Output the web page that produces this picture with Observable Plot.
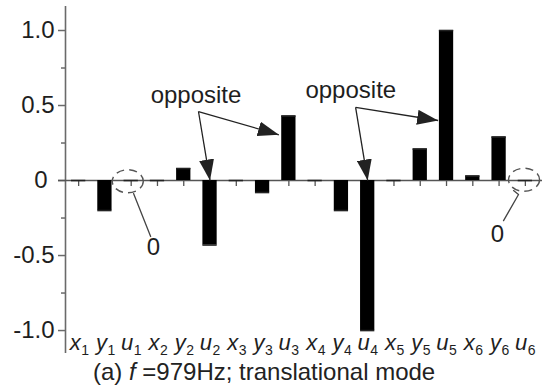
<!DOCTYPE html>
<html>
<head>
<meta charset="utf-8">
<script src="https://cdn.jsdelivr.net/npm/d3@7"></script>
<script src="https://cdn.jsdelivr.net/npm/@observablehq/plot@0.6"></script>
<style>
  body { margin: 0; background: #fff; }
  #chart { width: 542px; }
  .caption {
    width: 542px;
    font: 24px/28px "Liberation Sans", Arial, sans-serif;
    color: #222;
    padding-left: 93px;
    box-sizing: border-box;
    white-space: nowrap;
  }
</style>
</head>
<body>
<div id="chart"></div>
<div class="caption">(a) <i>f</i> =979Hz; translational mode</div>
<script>
// Degrees of freedom of the six nodes (letter = direction, digit = node)
const dofs = ["x1", "y1", "u1", "x2", "y2", "u2", "x3", "y3", "u3",
              "x4", "y4", "u4", "x5", "y5", "u5", "x6", "y6", "u6"];
// Normalised mode-shape amplitudes at f = 979 Hz
const amplitudes = [0, -0.2, 0, 0, 0.08, -0.43, 0, -0.08, 0.43,
                    0, -0.2, -1.0, 0, 0.21, 1.0, 0.03, 0.29, 0];

const majorTicks = [-1, -0.5, 0.5, 1];
const minorTicks = [-0.75, -0.25, 0.25, 0.75];

// "opposite" callouts (positions in dof-index / amplitude units)
const noteLabels = [
  {text: "opposite", x: 2.74, y: 0.52},
  {text: "opposite", x: 8.63, y: 0.547}
];
const noteArrows = [
  {x1: 4.56, y1: 0.46, x2: 5, y2: 0.0},
  {x1: 4.56, y1: 0.46, x2: 7.62, y2: 0.305},
  {x1: 10.54, y1: 0.487, x2: 11, y2: 0.0},
  {x1: 10.54, y1: 0.487, x2: 13.68, y2: 0.4}
];
// dashed rings marking zero rotations, with leaders to a "0" label
const zeroRings = [{x: 1.87, y: -0.005}, {x: 16.95, y: 0.005}];
const zeroLeaders = [
  {id: "a", x: 2.09, y: -0.087}, {id: "a", x: 2.74, y: -0.373},
  {id: "b", x: 16.55, y: -0.067}, {id: "b", x: 16.74, y: -0.093}, {id: "b", x: 16.17, y: -0.267}
];
const zeroLabels = [{text: "0", x: 2.85, y: -0.447}, {text: "0", x: 15.94, y: -0.36}];

const rows = dofs.map((dof, i) => ({dof, i, value: amplitudes[i]}));

// tick labels with a plain hyphen for negatives
const fmt = d => d3.format(".1f")(d).replace("\u2212", "-");

// filled triangular arrowhead
function filledHead(color, context) {
  const ns = "http://www.w3.org/2000/svg";
  const marker = context.document.createElementNS(ns, "marker");
  marker.setAttribute("viewBox", "-21 -7.5 21 15");
  marker.setAttribute("markerWidth", 21);
  marker.setAttribute("markerHeight", 15);
  marker.setAttribute("markerUnits", "userSpaceOnUse");
  marker.setAttribute("orient", "auto");
  marker.setAttribute("fill", color);
  marker.setAttribute("stroke", "none");
  const path = context.document.createElementNS(ns, "path");
  path.setAttribute("d", "M-21,-7.5L0,0L-21,7.5Z");
  marker.appendChild(path);
  return marker;
}

// ellipse symbol for the dashed rings
const ellipse = {
  draw(ctx, size) {
    const r = Math.sqrt(size / Math.PI);
    const rx = r * 1.35, ry = r, k = 0.5523;
    ctx.moveTo(rx, 0);
    ctx.bezierCurveTo(rx, ry * k, rx * k, ry, 0, ry);
    ctx.bezierCurveTo(-rx * k, ry, -rx, ry * k, -rx, 0);
    ctx.bezierCurveTo(-rx, -ry * k, -rx * k, -ry, 0, -ry);
    ctx.bezierCurveTo(rx * k, -ry, rx, -ry * k, rx, 0);
    ctx.closePath();
  }
};

const axisGray = "#6a6a6a";
const ink = "#1e1e1e";

const chart = Plot.plot({
  width: 542,
  height: 358,
  marginLeft: 65,
  marginRight: 4,
  marginTop: 6,
  marginBottom: 5,
  x: {domain: [-0.5, dofs.length - 0.5], axis: null},
  y: {domain: [-1.153, 1.16], axis: null},
  style: {fontFamily: "'Liberation Sans', Arial, sans-serif", background: "#fff", color: ink},
  marks: [
    // y axis
    Plot.ruleX([-0.5], {stroke: axisGray, strokeWidth: 1.6}),
    Plot.axisY(majorTicks, {tickSize: 7, tickPadding: 4, fontSize: 24, stroke: axisGray, strokeWidth: 1.5,
      fill: ink, tickFormat: fmt, label: null}),
    Plot.axisY([0], {tickSize: 7, tickPadding: 11, fontSize: 24, stroke: axisGray, strokeWidth: 1.5,
      fill: ink, tickFormat: () => "0", label: null}),
    Plot.axisY(minorTicks, {tickSize: 4, stroke: axisGray, strokeWidth: 1.5, tickFormat: () => "", label: null}),
    // small ticks below the zero line at each dof
    Plot.ruleX(rows, {x: "i", y1: 0, y2: -0.04, stroke: "#555", strokeWidth: 1.3}),
    // zero line
    Plot.ruleY([0], {stroke: "#555", strokeWidth: 1.5, insetLeft: -7, insetRight: -4}),
    // amplitude bars
    Plot.rectY(rows, {x1: d => d.i - 0.5, x2: d => d.i + 0.5, y1: 0, y2: "value",
      fill: "#000", insetLeft: 6, insetRight: 6}),
    Plot.ruleY(rows, {y: "value", x1: d => d.i - 0.5, x2: d => d.i + 0.5,
      insetLeft: 6, insetRight: 6, stroke: "#222", strokeWidth: 1.6}),
    // dof labels: italic letter + subscript node number
    Plot.text(rows, {x: "i", text: d => d.dof[0], frameAnchor: "bottom", lineAnchor: "bottom",
      textAnchor: "end", dx: 2, dy: -4, fontSize: 22, fontStyle: "italic", fill: ink}),
    Plot.text(rows, {x: "i", text: d => d.dof.slice(1), frameAnchor: "bottom", lineAnchor: "bottom",
      textAnchor: "start", dx: 2.5, dy: 1.5, fontSize: 14, fill: ink}),
    // callouts
    Plot.text(noteLabels, {x: "x", y: "y", text: "text", textAnchor: "start", lineAnchor: "bottom",
      fontSize: 24, fill: ink}),
    Plot.link(noteArrows, {x1: "x1", y1: "y1", x2: "x2", y2: "y2", stroke: "#222", strokeWidth: 1.3,
      markerEnd: filledHead}),
    Plot.dot(zeroRings, {x: "x", y: "y", r: 11.5, symbol: ellipse, stroke: "#555", strokeWidth: 1.4,
      strokeDasharray: "8,5", fill: "none"}),
    Plot.line(zeroLeaders, {x: "x", y: "y", z: "id", stroke: "#444", strokeWidth: 1.3}),
    Plot.text(zeroLabels, {x: "x", y: "y", text: "text", fontSize: 24, fill: ink})
  ]
});

document.getElementById("chart").appendChild(chart);
</script>
</body>
</html>
